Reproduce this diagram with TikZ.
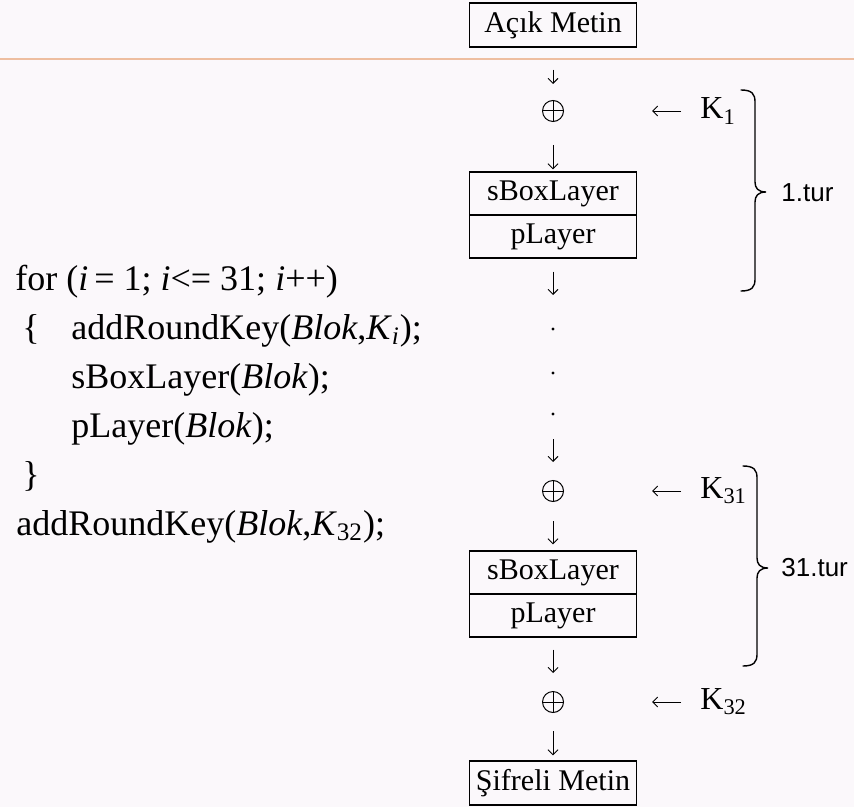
\documentclass[tikz,border=0pt]{standalone}
\usepackage{fontspec}
\setmainfont{Liberation Serif}
\setsansfont{Liberation Sans}
\usetikzlibrary{arrows.meta}

\definecolor{ScanLine}{RGB}{238,190,160}
\definecolor{PaperTint}{RGB}{251,248,251}

\tikzstyle{layer-box}=[draw, line width=0.7pt, minimum width=83.5pt, minimum height=21.5pt, inner sep=0pt, font=\fontsize{15}{18}\selectfont]
\tikzstyle{xor-node}=[circle, draw, line width=0.5pt, minimum size=10.5pt, inner sep=0pt, path picture={\draw[line width=0.5pt] (path picture bounding box.north) -- (path picture bounding box.south) (path picture bounding box.west) -- (path picture bounding box.east);}]
\tikzstyle{flow}=[-{Straight Barb[length=2.5pt,width=5pt]}, line width=0.45pt]
\tikzstyle{key-label}=[anchor=west, inner sep=0pt, font=\fontsize{16}{18}\selectfont]
\tikzstyle{round-brace}=[line width=0.7pt, line cap=round]
\tikzstyle{round-label}=[anchor=west, inner sep=0pt, font=\sffamily\fontsize{13}{15}\selectfont]
\tikzstyle{code-line}=[anchor=base west, inner sep=0pt, font=\fontsize{18}{22}\selectfont]
\tikzstyle{gap-dot}=[circle, fill, inner sep=0pt, minimum size=1.6pt]

% koseli kume parantezi: #1 = x, #2 = ust y, #3 = uc y, #4 = alt y
\newcommand{\turbrace}[4]{%
  \draw[round-brace] (#1,#2) .. controls (#1+11,#2) and (#1+14,#2+4) .. (#1+14,#2+12)
    -- (#1+14,#3-10) .. controls (#1+14,#3-4) and (#1+17,#3) .. (#1+25,#3)
    .. controls (#1+17,#3) and (#1+14,#3+4) .. (#1+14,#3+10)
    -- (#1+14,#4-12) .. controls (#1+14,#4-4) and (#1+11,#4) .. (#1,#4);}

\begin{document}
\begin{tikzpicture}[x=0.5pt, y=-0.5pt]
      \fill[PaperTint] (0,0) rectangle (854,807);
      \useasboundingbox (0,0) rectangle (854,807);
      \draw[ScanLine, line width=1pt] (0,59) -- (854,59);

      % akis: ilk tur
      \node (acik-box) at (553,25) [layer-box, minimum height=22pt] {Açık Metin};
      \node (xor-1) at (553,111) [xor-node] {};
      \node (sbox-1) at (553,193.5) [layer-box] {sBoxLayer};
      \node (player-1) at (553,236.5) [layer-box] {pLayer};
      \node (dot-1) at (553,329) [gap-dot] {};
      \node (dot-2) at (553,373) [gap-dot] {};
      \node (dot-3) at (553,414) [gap-dot] {};

      % akis: son turlar
      \node (xor-31) at (553,491) [xor-node] {};
      \node (sbox-31) at (553,572.5) [layer-box] {sBoxLayer};
      \node (player-31) at (553,615.5) [layer-box] {pLayer};
      \node (xor-32) at (553,702) [xor-node] {};
      \node (sifreli-box) at (553,783) [layer-box, minimum height=22pt] {Şifreli Metin};

      \draw[flow, shorten <=11pt, shorten >=8pt] (acik-box) -- (xor-1);
      \draw[flow, shorten <=11.5pt, shorten >=1pt] (xor-1) -- (sbox-1);
      \draw[flow, shorten <=6.5pt, shorten >=16pt] (player-1) -- (dot-1);
      \draw[flow, shorten <=11.5pt, shorten >=9pt] (dot-3) -- (xor-31);
      \draw[flow, shorten <=9.5pt, shorten >=3pt] (xor-31) -- (sbox-31);
      \draw[flow, shorten <=6pt, shorten >=9pt] (player-31) -- (xor-32);
      \draw[flow, shorten <=9pt, shorten >=2.5pt] (xor-32) -- (sifreli-box);

      % tur anahtarlari
      \node (key-1) at (700,111) [key-label] {K\textsubscript{1}};
      \node (key-31) at (700,491) [key-label] {K\textsubscript{31}};
      \node (key-32) at (700,702) [key-label] {K\textsubscript{32}};
      \draw[flow, shorten <=9.5pt, shorten >=44pt] (key-1) -- (xor-1);
      \draw[flow, shorten <=9.5pt, shorten >=44pt] (key-31) -- (xor-31);
      \draw[flow, shorten <=9.5pt, shorten >=44pt] (key-32) -- (xor-32);

      \turbrace{741}{90}{192}{291}
      \turbrace{743}{466}{568}{666}
      \node (tur-1) at (781,193) [round-label] {1.tur};
      \node (tur-31) at (781,568) [round-label] {31.tur};

      % sozde kod
      \node (code-for) at (15,290) [code-line] {for (\textit{i}\,= 1; \textit{i}<= 31; \textit{i}++)};
      \node (code-key) at (22,339) [code-line] {\makebox[24.5pt][l]{\{}addRoundKey(\textit{Blok},\textit{K}\textsubscript{\textit{i}});};
      \node (code-sbox) at (71,388) [code-line] {sBoxLayer(\textit{Blok});};
      \node (code-perm) at (71,437) [code-line] {pLayer(\textit{Blok});};
      \node (code-end) at (22,486) [code-line] {\}};
      \node (code-last) at (16,535) [code-line] {addRoundKey(\textit{Blok},\textit{K}\textsubscript{32});};
    \end{tikzpicture}
\end{document}
